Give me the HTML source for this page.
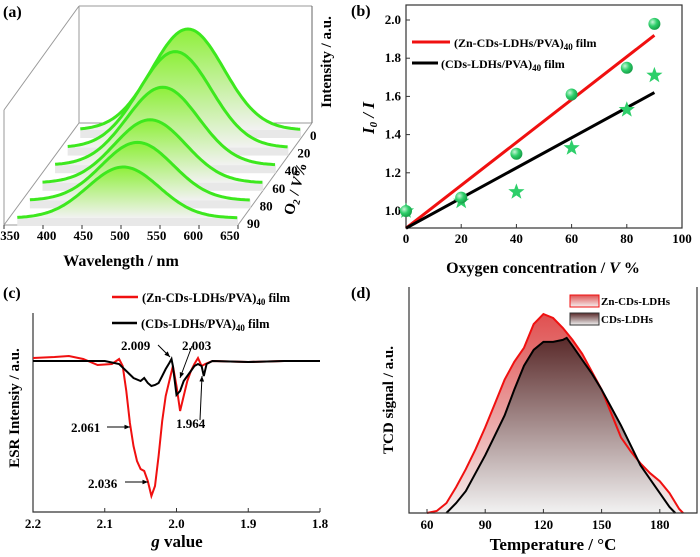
<!DOCTYPE html>
<html><head><meta charset="utf-8"><style>
body{margin:0;background:#fff}
svg{display:block;font-family:"Liberation Serif",serif;font-weight:bold}
</style></head><body>
<svg id="fig" width="700" height="557" viewBox="0 0 700 557" xmlns="http://www.w3.org/2000/svg">
<defs>
<linearGradient id="gGreen" x1="0" y1="0" x2="0" y2="1"><stop offset="0" stop-color="#8ef03a"/><stop offset="1" stop-color="#f2f2f2"/></linearGradient>
<linearGradient id="gRed" x1="0" y1="0" x2="0" y2="1"><stop offset="0" stop-color="#e05050"/><stop offset="1" stop-color="#f4f0f0"/></linearGradient>
<linearGradient id="gBlack" x1="0" y1="0" x2="0" y2="1"><stop offset="0" stop-color="#5a2a2a"/><stop offset="1" stop-color="#f2f2f2"/></linearGradient>
<radialGradient id="gBall" cx="0.35" cy="0.35" r="0.7"><stop offset="0" stop-color="#c8f5d8"/><stop offset="0.5" stop-color="#2ecf6a"/><stop offset="1" stop-color="#159a45"/></radialGradient>
</defs>
<g id="pa"></g>
<g id="pb"></g>
<g id="pc"></g>
<g id="pd"></g>
</svg>
<script>
// ---- Panel (a) data ----
const aSeries = [0, 20, 40, 60, 80, 90];
const aPeakHeight = [101, 96, 78, 63, 58, 51];
const aPeakNm = [505, 505, 505, 505, 505, 503];
const aTicks = [350, 400, 450, 500, 550, 600, 650];
// ---- Panel (b) data ----
const bX = [0, 20, 40, 60, 80, 90];
const bCircles = [1.0, 1.07, 1.30, 1.61, 1.75, 1.98];
const bStars = [1.0, 1.05, 1.10, 1.33, 1.53, 1.71];
const bRedFit = [0.91, 1.92];
const bBlackFit = [0.91, 1.62];
const bXTicks = [0, 20, 40, 60, 80, 100];
const bYTicks = [1.0, 1.2, 1.4, 1.6, 1.8, 2.0];
// ---- Panel (c) data ----
const cRedG = [2.2,2.17,2.15,2.13,2.11,2.09,2.08,2.075,2.07,2.065,2.06,2.055,2.05,2.045,2.04,2.035,2.03,2.025,2.02,2.015,2.01,2.005,2.0,1.995,1.99,1.985,1.98,1.975,1.97,1.965,1.96,1.95,1.9,1.85,1.8];
const cRedV = [-3,-4,-5,-2,4,3,-2,5,30,62,85,100,108,110,120,135,125,95,60,35,20,5,25,50,35,20,10,3,-3,5,3,0,1,0,0];
const cBlackG = [2.2,2.15,2.1,2.08,2.07,2.06,2.05,2.045,2.04,2.035,2.03,2.025,2.02,2.015,2.01,2.007,2.005,2.0,1.995,1.99,1.98,1.975,1.97,1.965,1.962,1.958,1.95,1.9,1.85,1.8];
const cBlackV = [0,0,0,3,10,17,20,17,22,25,24,22,15,8,2,-2,5,34,30,20,10,5,3,5,15,3,0,1,0,0];
const cXTicks = [2.2, 2.1, 2.0, 1.9, 1.8];
// ---- Panel (d) data ----
const dRedT = [60,65,70,75,80,85,90,95,100,105,110,115,120,125,130,135,140,145,150,155,160,165,170,175,180,185,190,192];
const dRedH = [0,0.01,0.05,0.13,0.22,0.32,0.43,0.55,0.67,0.76,0.83,0.95,1.0,0.98,0.93,0.87,0.80,0.71,0.62,0.50,0.38,0.31,0.25,0.20,0.16,0.10,0.02,0];
const dBlackT = [70,75,80,85,90,95,100,105,110,115,120,125,130,132,135,140,145,150,155,160,165,170,175,180,185,188];
const dBlackH = [0,0.05,0.11,0.20,0.29,0.39,0.49,0.62,0.74,0.82,0.86,0.86,0.87,0.88,0.84,0.77,0.70,0.62,0.53,0.44,0.34,0.24,0.17,0.10,0.03,0];
const dXTicks = [60, 90, 120, 150, 180];

const NS = "http://www.w3.org/2000/svg";
function mk(parent, tag, attrs, text){
  const e = document.createElementNS(NS, tag);
  for (const k in attrs) e.setAttribute(k, attrs[k]);
  if (text !== undefined) e.textContent = text;
  parent.appendChild(e);
  return e;
}
function poly(pts){ return pts.map((p,i)=>(i?'L':'M')+p[0].toFixed(1)+' '+p[1].toFixed(1)).join(' '); }

// ===== Panel A =====
(function(){
  const g = document.getElementById('pa');
  const ax = w => 4 + (w - 350) * 0.78;
  const lx = w => 10 + (w - 350) * 0.733;
  const dx = 12.6, dy = 17.6;
  const frontBase = 218;
  let e;
  e = mk(g,'path',{d:'M79 6 L312 6 M79 6 L79 123 L312 123 M4 110 L79 6 M4 110 L4 225 L238 225 L312 123 M4 225 L79 123',fill:'none',stroke:'#999','stroke-width':1});
   
  e = mk(g,'line',{x1:312,y1:6,x2:312,y2:123,stroke:'#666','stroke-width':1});
   
  for (let i = 0; i < aSeries.length; i++){
    const k = 5 - i;
    const ox = k * dx, base = frontBase - k * dy;
    const pts = [];
    for (let w = 367; w <= 650; w += 3){
      const h = aPeakHeight[i] * Math.exp(-Math.pow(w - aPeakNm[i], 2) / (2 * 46 * 46));
      pts.push([ax(w) + ox, base - h]);
    }
    e = mk(g,'rect',{x:ax(367)+ox,y:base-1,width:ax(650)-ax(367),height:9,fill:'#e8e8e8'});
     
    const fill = poly(pts) + ` L${(ax(650)+ox).toFixed(1)} ${base} L${(ax(367)+ox).toFixed(1)} ${base} Z`;
    e = mk(g,'path',{d:fill,fill:'url(#gGreen)',stroke:'none'});
     
    e = mk(g,'path',{d:poly(pts),fill:'none',stroke:'#3de81e','stroke-width':3,'stroke-linejoin':'round'});
     
    e = mk(g,'text',{x:(247 + k*dx).toFixed(1),y:(base+10).toFixed(1),'font-size':13}, String(aSeries[i]));
     
  }
  for (const t of aTicks){
    e = mk(g,'text',{x:lx(t),y:240,'font-size':13,'text-anchor':'middle'}, String(t));
     
    e = mk(g,'line',{x1:ax(t),y1:225,x2:ax(t),y2:229,stroke:'#333'});
     
  }
  e = mk(g,'text',{x:121,y:266,'font-size':16,'text-anchor':'middle'},'Wavelength / nm');
   
  e = mk(g,'text',{x:0,y:0,'font-size':15,'text-anchor':'middle',transform:'translate(331,62) rotate(-90)'},'Intensity / a.u.');
   
  e = mk(g,'text',{x:0,y:0,'font-size':15,'text-anchor':'middle',transform:'translate(300,190) rotate(-75)'});
  e.innerHTML = 'O<tspan font-size="10" dy="3">2</tspan><tspan dy="-3"> / </tspan><tspan font-style="italic">V</tspan>%';
   
  e = mk(g,'text',{x:3,y:17,'font-size':16},'(a)');
   
})();

// ===== Panel B =====
(function(){
  const g = document.getElementById('pb');
  const L=406,R=682,T=5,B=228;
  const xs = v => L + (v/100)*(R-L);
  const ys = v => 211 - (v-1.0)*191;
  let e;
  e = mk(g,'rect',{x:L,y:T,width:R-L,height:B-T,fill:'none',stroke:'#333','stroke-width':1.2});
   
  for (const t of bXTicks){
    e = mk(g,'line',{x1:xs(t),y1:B,x2:xs(t),y2:B-4,stroke:'#333'});  
    e = mk(g,'text',{x:xs(t),y:B+15,'font-size':13,'text-anchor':'middle'},String(t));  
  }
  for (const t of bYTicks){
    e = mk(g,'line',{x1:L,y1:ys(t),x2:L+4,y2:ys(t),stroke:'#333'});  
    e = mk(g,'text',{x:L-5,y:ys(t)+4,'font-size':13,'text-anchor':'end'},t.toFixed(1));  
  }
  e = mk(g,'line',{x1:xs(0),y1:ys(bRedFit[0]),x2:xs(90),y2:ys(bRedFit[1]),stroke:'#f01010','stroke-width':3});
   
  e = mk(g,'line',{x1:xs(0),y1:ys(bBlackFit[0]),x2:xs(90),y2:ys(bBlackFit[1]),stroke:'#000','stroke-width':3});
   
  for (let i=0;i<bX.length;i++){
    const cx=xs(bX[i]), cy=ys(bStars[i]);
    const pts=[];
    for(let k=0;k<10;k++){const r=k%2?3.5:8.5;const a=-Math.PI/2+k*Math.PI/5;pts.push((cx+r*Math.cos(a)).toFixed(1)+','+(cy+r*Math.sin(a)).toFixed(1));}
    e = mk(g,'polygon',{points:pts.join(' '),fill:'#2ecf6a'});
     
  }
  for (let i=0;i<bX.length;i++){
    e = mk(g,'circle',{cx:xs(bX[i]),cy:ys(bCircles[i]),r:6,fill:'url(#gBall)'});
     
  }
  e = mk(g,'line',{x1:412,y1:42,x2:450,y2:42,stroke:'#f01010','stroke-width':3});  
  e = mk(g,'text',{x:454,y:47,'font-size':12}); e.innerHTML='(Zn-CDs-LDHs/PVA)<tspan font-size="9" dy="3">40</tspan><tspan dy="-3"> film</tspan>';
   
  e = mk(g,'line',{x1:412,y1:63,x2:438,y2:63,stroke:'#000','stroke-width':3});  
  e = mk(g,'text',{x:441,y:68,'font-size':12}); e.innerHTML='(CDs-LDHs/PVA)<tspan font-size="9" dy="3">40</tspan><tspan dy="-3"> film</tspan>';
   
  e = mk(g,'text',{x:543,y:273,'font-size':16,'text-anchor':'middle'}); e.innerHTML='Oxygen concentration / <tspan font-style="italic">V</tspan> %';
   
  e = mk(g,'text',{x:0,y:0,'font-size':17,'font-style':'italic','text-anchor':'middle',transform:'translate(374,118) rotate(-90)'}); e.innerHTML='I<tspan font-size="11" dy="3">0</tspan><tspan dy="-3"> / I</tspan>';
   
  e = mk(g,'text',{x:351,y:16,'font-size':16},'(b)');  
})();

// ===== Panel C =====
(function(){
  const g = document.getElementById('pc');
  const L=33,R=320,B=512,base=361;
  const xs = v => L + (2.2-v)/0.4*(R-L);
  let e;
  e = mk(g,'path',{d:`M${L} 313 L${L} ${B} L${R} ${B}`,fill:'none',stroke:'#333','stroke-width':1.2});
   
  for (const t of cXTicks){
    e = mk(g,'line',{x1:xs(t),y1:B,x2:xs(t),y2:B-4,stroke:'#333'});  
    e = mk(g,'text',{x:xs(t),y:B+16,'font-size':13,'text-anchor':'middle'},t.toFixed(1));  
  }
  e = mk(g,'path',{d:poly(cRedG.map((v,i)=>[xs(v),base+cRedV[i]])),fill:'none',stroke:'#f01010','stroke-width':2});
   
  e = mk(g,'path',{d:poly(cBlackG.map((v,i)=>[xs(v),base+cBlackV[i]])),fill:'none',stroke:'#000','stroke-width':2});
   
  const ann=[['2.009',121,350],['2.003',182,350],['2.061',71,432],['2.036',88,488],['1.964',176,428]];
  for(const a of ann){
    e = mk(g,'text',{x:a[1],y:a[2],'font-size':13},a[0]);
     
  }
  const arrows=[[107,427,130,427],[125,482,148,482],[158,345,170,357],[192,346,180,378],[200,420,202,376]];
  for(const r of arrows){
    e = mk(g,'line',{x1:r[0],y1:r[1],x2:r[2],y2:r[3],stroke:'#000','stroke-width':1});
     
    const ang=Math.atan2(r[3]-r[1],r[2]-r[0]);
    const p=[[r[2],r[3]],[r[2]-6*Math.cos(ang-0.4),r[3]-6*Math.sin(ang-0.4)],[r[2]-6*Math.cos(ang+0.4),r[3]-6*Math.sin(ang+0.4)]];
    e = mk(g,'polygon',{points:p.map(q=>q[0].toFixed(1)+','+q[1].toFixed(1)).join(' '),fill:'#000'});
     
  }
  e = mk(g,'line',{x1:112,y1:297,x2:138,y2:297,stroke:'#f01010','stroke-width':2.5});  
  e = mk(g,'text',{x:142,y:302,'font-size':12.5}); e.innerHTML='(Zn-CDs-LDHs/PVA)<tspan font-size="9" dy="3">40</tspan><tspan dy="-3"> film</tspan>';
   
  e = mk(g,'line',{x1:112,y1:323,x2:137,y2:323,stroke:'#000','stroke-width':2.5});  
  e = mk(g,'text',{x:141,y:328,'font-size':12.5}); e.innerHTML='(CDs-LDHs/PVA)<tspan font-size="9" dy="3">40</tspan><tspan dy="-3"> film</tspan>';
   
  e = mk(g,'text',{x:177,y:547,'font-size':17,'text-anchor':'middle'}); e.innerHTML='<tspan font-style="italic">g</tspan>  value';
   
  e = mk(g,'text',{x:0,y:0,'font-size':15,'text-anchor':'middle',transform:'translate(19,408) rotate(-90)'},'ESR Intensiy / a.u.');
   
  e = mk(g,'text',{x:3,y:298,'font-size':16},'(c)');  
})();

// ===== Panel D =====
(function(){
  const g = document.getElementById('pd');
  const L=409,R=697,T=287,B=513;
  const xs = v => 427 + (v-60)*1.94;
  const ys = h => B - h*199;
  let e;
  const rp = dRedT.map((t,i)=>[xs(t),ys(dRedH[i])]);
  const bp = dBlackT.map((t,i)=>[xs(t),ys(dBlackH[i])]);
  e = mk(g,'path',{d:poly(rp)+' Z',fill:'url(#gRed)'});  
  e = mk(g,'path',{d:poly(bp)+' Z',fill:'url(#gBlack)'});  
  e = mk(g,'path',{d:poly(rp),fill:'none',stroke:'#f01010','stroke-width':2});  
  e = mk(g,'path',{d:poly(bp),fill:'none',stroke:'#000','stroke-width':2});  
  e = mk(g,'path',{d:`M${L} ${T} L${L} ${B} L${R} ${B} L${R} ${T}`,fill:'none',stroke:'#333','stroke-width':1.2});
   
  for (const t of dXTicks){
    e = mk(g,'line',{x1:xs(t),y1:B,x2:xs(t),y2:B-4,stroke:'#333'});  
    e = mk(g,'text',{x:xs(t),y:B+16,'font-size':13,'text-anchor':'middle'},String(t));  
  }
  e = mk(g,'rect',{x:570,y:295,width:29,height:12,fill:'url(#gRed)',stroke:'#f01010'});  
  e = mk(g,'text',{x:601,y:305,'font-size':11},'Zn-CDs-LDHs');  
  e = mk(g,'rect',{x:570,y:313,width:29,height:12,fill:'url(#gBlack)',stroke:'#333'});  
  e = mk(g,'text',{x:601,y:323,'font-size':11},'CDs-LDHs');  
  e = mk(g,'text',{x:553,y:550,'font-size':17,'text-anchor':'middle'},'Temperature / °C');  
  e = mk(g,'text',{x:0,y:0,'font-size':15,'text-anchor':'middle',transform:'translate(393,400) rotate(-90)'},'TCD signal / a.u.');
   
  e = mk(g,'text',{x:351,y:298,'font-size':16},'(d)');  
})();
</script>
</body></html>
